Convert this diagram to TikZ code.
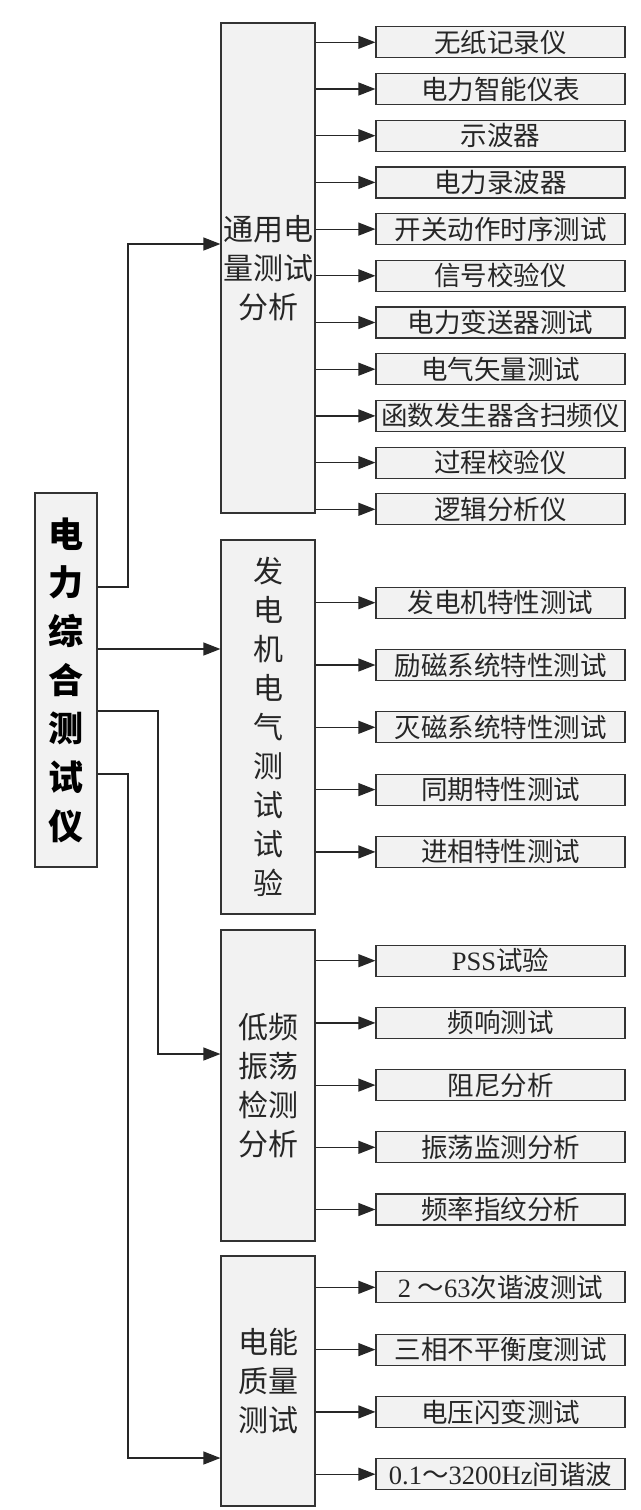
\documentclass[tikz,border=0pt]{standalone}
\usepackage{fontspec}
\usetikzlibrary{arrows.meta}
\newfontfamily\cjk{Noto Sans CJK SC}
\newfontfamily\lat{Liberation Serif}
\tikzset{
  box/.style={draw=black!80, line width=1.2pt, fill=black!5},
  grp/.style={box, minimum width=94pt, inner sep=0pt, align=center,
    font=\cjk\fontsize{30}{39}\selectfont, text=black!85},
  rootbox/.style={box, minimum width=62pt, minimum height=374pt, inner sep=0pt, align=center,
    font=\cjk\bfseries\fontsize{35}{48.7}\selectfont, text=black},
  leaf/.style={box, minimum width=249pt, minimum height=31pt, inner sep=0pt,
    font=\cjk\fontsize{26.5}{30}\selectfont, text=black!85},
  arr/.style={draw=black!85, line width=1.2pt, -{Triangle[length=17pt,width=13pt]}},
}
\begin{document}
\begin{tikzpicture}[x=1pt,y=-1pt]
\useasboundingbox (0,0) rectangle (640,1510);
\fill[white] (0,0) rectangle (640,1510);

% root
\node[rootbox] (root) at (66,680) {电\\力\\综\\合\\测\\试\\仪};

% groups
\node[grp, minimum height=490pt] (g1) at (268,268) {通用电\\量测试\\分析};
\node[grp, minimum height=374pt] (g2) at (268,727) {发\\电\\机\\电\\气\\测\\试\\试\\验};
\node[grp, minimum height=311pt] (g3) at (268,1085.5) {低频\\振荡\\检测\\分析};
\node[grp, minimum height=250pt] (g4) at (268,1381) {电能\\质量\\测试};

% leaves of group 1
\foreach \t [count=\i from 0] in {无纸记录仪,电力智能仪表,示波器,电力录波器,开关动作时序测试,信号校验仪,电力变送器测试,电气矢量测试,函数发生器含扫频仪,过程校验仪,逻辑分析仪}{
  \node[leaf] (a\i) at (500.5,{42.3+46.7*\i}) {\t};
  \draw[arr] (g1.east |- a\i) -- (a\i.west);
}
% leaves of group 2
\foreach \t [count=\i from 0] in {发电机特性测试,励磁系统特性测试,灭磁系统特性测试,同期特性测试,进相特性测试}{
  \node[leaf] (b\i) at (500.5,{602.7+62.3*\i}) {\t};
  \draw[arr] (g2.east |- b\i) -- (b\i.west);
}
% leaves of group 3
\foreach \t [count=\i from 0] in {{{\lat PSS}试验},频响测试,阻尼分析,振荡监测分析,频率指纹分析}{
  \node[leaf] (c\i) at (500.5,{960.7+62.2*\i}) {\t};
  \draw[arr] (g3.east |- c\i) -- (c\i.west);
}
% leaves of group 4
\foreach \t [count=\i from 0] in {{{\lat 2\ }～{\lat 63}次谐波测试},三相不平衡度测试,电压闪变测试,{{\lat 0.1}～{\lat 3200Hz}间谐波}}{
  \node[leaf] (d\i) at (500.5,{1287.3+62.3*\i}) {\t};
  \draw[arr] (g4.east |- d\i) -- (d\i.west);
}

% root connectors
\draw[arr] (root.east |- 0,587) -| (128,244) -- (g1.west |- 0,244);
\draw[arr] (root.east |- 0,649) -- (g2.west |- 0,649);
\draw[arr] (root.east |- 0,711) -| (158,1054) -- (g3.west |- 0,1054);
\draw[arr] (root.east |- 0,774) -| (128,1458) -- (g4.west |- 0,1458);
\end{tikzpicture}
\end{document}
